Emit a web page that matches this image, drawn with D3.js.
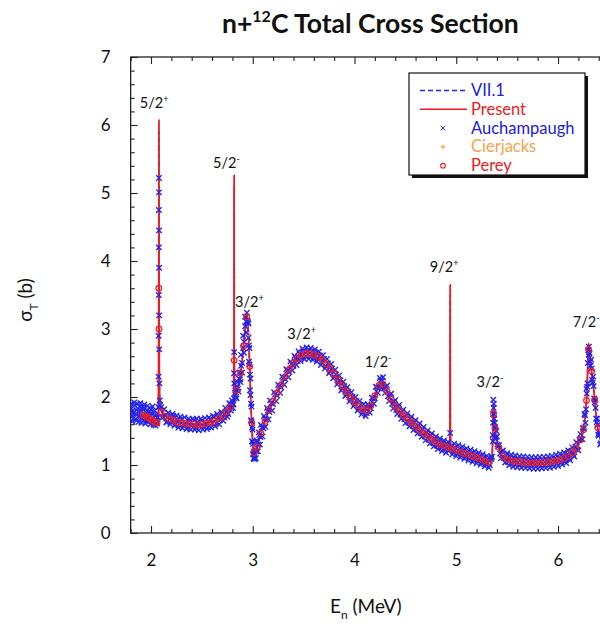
<!DOCTYPE html>
<html>
<head>
<meta charset="utf-8">
<script src="https://cdn.jsdelivr.net/npm/d3@7"></script>
<style>
  html, body { margin: 0; padding: 0; background: #fff; }
  svg { display: block; }
  text { font-family: "Lato", "Liberation Sans", sans-serif; fill: #111; }
</style>
</head>
<body>
<svg id="chart" width="600" height="624"></svg>
<script>
// ---- axis ticks ----
const xTicks = [2, 3, 4, 5, 6];
const yTicks = [0, 1, 2, 3, 4, 5, 6, 7];

// ---- "Present" evaluation and ENDF/B-VII.1, sampled at the same energies (MeV) ----
const energy = [
  1.80, 1.85, 1.90, 1.95, 2.00, 2.04, 2.06, 2.07, 2.074, 2.077, 2.078, 2.079, 2.082, 2.088,
  2.10, 2.12, 2.15, 2.20, 2.25, 2.30, 2.35, 2.40, 2.45, 2.50, 2.55, 2.60, 2.65, 2.70, 2.75,
  2.78, 2.80, 2.812, 2.816, 2.817, 2.818, 2.822, 2.83, 2.85, 2.875, 2.90, 2.92, 2.935, 2.945,
  2.955, 2.965, 2.975, 2.985, 2.995, 3.005, 3.015, 3.03, 3.05, 3.075, 3.10, 3.135, 3.17, 3.22,
  3.27, 3.32, 3.37, 3.42, 3.47, 3.53, 3.58, 3.63, 3.70, 3.76, 3.83, 3.90, 3.96, 4.00, 4.055,
  4.10, 4.13, 4.17, 4.21, 4.24, 4.265, 4.29, 4.33, 4.38, 4.45, 4.50, 4.55, 4.60, 4.65, 4.70,
  4.75, 4.80, 4.85, 4.90, 4.935, 4.938, 4.940, 4.942, 4.946, 5.00, 5.05, 5.10, 5.15, 5.20,
  5.25, 5.30, 5.335, 5.35, 5.36, 5.367, 5.375, 5.39, 5.41, 5.43, 5.46, 5.50, 5.55, 5.65, 5.75,
  5.85, 5.92, 6.00, 6.05, 6.10, 6.15, 6.19, 6.22, 6.25, 6.27, 6.285, 6.295, 6.30, 6.31, 6.33,
  6.35, 6.37, 6.39, 6.42, 6.46, 6.50
];
const presentSigma = [
  1.76, 1.75, 1.72, 1.69, 1.66, 1.63, 1.60, 1.62, 1.90, 4.00, 6.07, 4.00, 2.30, 1.90,
  1.80, 1.75, 1.71, 1.67, 1.645, 1.625, 1.61, 1.60, 1.595, 1.60, 1.61, 1.635, 1.665, 1.715, 1.79,
  1.85, 1.90, 1.95, 3.00, 5.26, 3.00, 2.00, 2.03, 2.13, 2.30, 2.60, 2.93, 3.15, 3.20,
  3.02, 2.65, 2.20, 1.78, 1.45, 1.24, 1.16, 1.21, 1.32, 1.45, 1.56, 1.71, 1.84, 2.00,
  2.15, 2.30, 2.43, 2.54, 2.61, 2.645, 2.635, 2.605, 2.52, 2.42, 2.27, 2.12, 2.00, 1.93, 1.85,
  1.80, 1.81, 1.90, 2.06, 2.17, 2.22, 2.17, 2.05, 1.91, 1.78, 1.70, 1.64, 1.575, 1.51, 1.45,
  1.39, 1.335, 1.295, 1.265, 1.25, 1.60, 3.65, 1.60, 1.24, 1.215, 1.19, 1.16, 1.135, 1.11,
  1.08, 1.05, 1.035, 1.06, 1.50, 1.90, 1.65, 1.45, 1.30, 1.20, 1.13, 1.09, 1.06, 1.04, 1.03,
  1.035, 1.045, 1.07, 1.095, 1.13, 1.19, 1.27, 1.37, 1.52, 1.75, 2.10, 2.60, 2.79, 2.65, 2.38,
  2.12, 1.80, 1.55, 1.36, 1.25, 1.18
];
const vii1Sigma = [
  1.76, 1.75, 1.72, 1.69, 1.66, 1.63, 1.60, 1.62, 1.88, 3.90, 5.90, 3.90, 2.28, 1.90,
  1.80, 1.75, 1.71, 1.67, 1.645, 1.625, 1.61, 1.60, 1.595, 1.60, 1.61, 1.635, 1.665, 1.715, 1.79,
  1.85, 1.90, 1.95, 2.90, 5.10, 2.90, 2.00, 2.03, 2.13, 2.30, 2.60, 2.93, 3.14, 3.19,
  3.02, 2.65, 2.20, 1.78, 1.45, 1.24, 1.16, 1.21, 1.32, 1.45, 1.56, 1.71, 1.84, 2.00,
  2.15, 2.30, 2.43, 2.54, 2.61, 2.645, 2.635, 2.605, 2.52, 2.42, 2.27, 2.12, 2.00, 1.93, 1.85,
  1.80, 1.81, 1.90, 2.06, 2.17, 2.22, 2.17, 2.05, 1.91, 1.78, 1.70, 1.64, 1.575, 1.51, 1.45,
  1.39, 1.335, 1.295, 1.265, 1.25, 1.55, 3.50, 1.55, 1.24, 1.215, 1.19, 1.16, 1.135, 1.11,
  1.08, 1.05, 1.035, 1.06, 1.48, 1.88, 1.64, 1.45, 1.30, 1.20, 1.13, 1.09, 1.06, 1.04, 1.03,
  1.035, 1.045, 1.07, 1.095, 1.13, 1.19, 1.27, 1.37, 1.52, 1.75, 2.08, 2.58, 2.76, 2.63, 2.37,
  2.12, 1.80, 1.55, 1.36, 1.25, 1.18
];

// ---- measured transmission data, [E (MeV), sigma_T (b)] ----
const auchampaugh = [
  [1.80,1.85],[1.81,1.71],[1.82,1.80],[1.83,1.69],[1.84,1.88],[1.85,1.75],[1.86,1.66],[1.87,1.83],
  [1.88,1.72],[1.89,1.86],[1.90,1.68],[1.91,1.79],[1.92,1.70],[1.93,1.84],[1.94,1.74],[1.95,1.65],
  [1.96,1.81],[1.97,1.70],[1.98,1.77],[1.99,1.66],[2.00,1.82],[2.01,1.69],[2.02,1.75],[2.03,1.64],
  [2.04,1.72],[2.05,1.66],[2.06,1.61],[2.065,1.70],[2.072,1.85],[2.074,2.30],[2.075,2.90],[2.076,3.50],
  [2.077,4.20],[2.0775,4.75],[2.078,5.22],[2.0785,5.01],[2.079,4.45],[2.0795,3.90],[2.080,3.20],[2.081,2.70],
  [2.083,2.20],[2.086,1.95],[2.09,1.88],
  [2.10,1.85],[2.12,1.71],[2.14,1.73],[2.16,1.64],[2.18,1.725],[2.20,1.65],[2.22,1.72],[2.24,1.60],
  [2.26,1.67],[2.28,1.60],[2.30,1.675],[2.32,1.58],[2.34,1.62],[2.36,1.55],[2.38,1.645],[2.40,1.58],
  [2.42,1.66],[2.44,1.545],[2.46,1.625],[2.48,1.567],[2.50,1.65],[2.52,1.564],[2.54,1.618],[2.56,1.555],
  [2.58,1.665],[2.60,1.615],[2.62,1.71],[2.64,1.61],[2.66,1.705],[2.68,1.665],[2.70,1.765],[2.72,1.70],
  [2.74,1.785],[2.76,1.75],[2.78,1.89],[2.79,1.835],[2.80,1.91],[2.81,1.89],[2.816,2.35],[2.817,2.66],
  [2.818,2.20],[2.825,2.06],[2.835,2.00],[2.845,2.14],[2.855,2.12],[2.865,2.27],[2.875,2.26],[2.885,2.46],
  [2.895,2.50],[2.905,2.72],[2.915,2.81],[2.925,3.04],[2.935,3.11],[2.942,3.24],[2.948,3.12],[2.953,3.10],
  [2.958,2.87],[2.963,2.76],[2.968,2.48],[2.973,2.33],[2.978,2.03],[2.983,1.90],[2.988,1.64],[2.993,1.55],
  [2.998,1.34],[3.003,1.31],[3.008,1.17],[3.013,1.20],[3.018,1.12],[3.025,1.22],[3.035,1.20],[3.045,1.33],
  [3.055,1.30],[3.065,1.44],[3.075,1.41],[3.09,1.555],[3.105,1.54],[3.12,1.685],[3.135,1.67],[3.15,1.805],
  [3.165,1.78],[3.18,1.91],[3.20,1.895],[3.22,2.04],[3.24,2.02],[3.26,2.16],[3.28,2.14],[3.30,2.28],
  [3.32,2.26],[3.34,2.39],[3.36,2.365],[3.38,2.49],[3.40,2.46],[3.42,2.58],[3.44,2.53],[3.46,2.64],
  [3.48,2.575],[3.50,2.67],[3.52,2.60],[3.54,2.685],[3.56,2.60],[3.58,2.675],[3.60,2.585],[3.62,2.65],
  [3.64,2.555],[3.66,2.61],[3.68,2.505],[3.70,2.56],[3.72,2.45],[3.74,2.495],[3.76,2.38],[3.78,2.42],
  [3.80,2.295],[3.82,2.33],[3.84,2.21],[3.86,2.245],[3.88,2.12],[3.90,2.16],[3.92,2.04],[3.94,2.08],
  [3.96,1.96],[3.98,2.005],[4.00,1.89],[4.02,1.94],[4.04,1.83],[4.06,1.885],[4.08,1.78],[4.10,1.84],
  [4.12,1.765],[4.14,1.87],[4.16,1.835],[4.18,1.98],[4.20,1.98],[4.22,2.14],[4.24,2.13],[4.255,2.24],
  [4.265,2.19],[4.275,2.24],[4.29,2.13],[4.31,2.15],[4.33,2.01],[4.35,2.035],[4.37,1.90],[4.39,1.93],
  [4.41,1.81],[4.43,1.855],[4.45,1.74],[4.47,1.79],[4.49,1.675],[4.51,1.73],[4.53,1.625],[4.55,1.68],
  [4.57,1.575],[4.59,1.63],[4.61,1.52],[4.63,1.575],[4.65,1.47],[4.67,1.525],[4.69,1.42],[4.71,1.48],
  [4.73,1.375],[4.75,1.43],[4.77,1.33],[4.79,1.385],[4.81,1.285],[4.83,1.35],[4.85,1.255],[4.87,1.32],
  [4.89,1.23],[4.91,1.30],[4.93,1.21],[4.94,1.47],[4.95,1.285],[4.97,1.195],[4.99,1.26],[5.01,1.17],
  [5.03,1.24],[5.05,1.15],[5.07,1.22],[5.09,1.125],[5.11,1.195],[5.13,1.105],[5.15,1.175],[5.17,1.085],
  [5.19,1.155],[5.21,1.065],[5.23,1.13],[5.25,1.04],[5.27,1.11],[5.29,1.015],[5.31,1.085],[5.33,0.997],
  [5.345,1.09],[5.352,1.12],[5.357,1.44],[5.361,1.62],[5.364,1.96],[5.367,1.84],[5.371,1.74],[5.376,1.56],
  [5.383,1.54],[5.39,1.41],[5.40,1.42],[5.41,1.27],[5.42,1.29],[5.43,1.17],[5.45,1.20],[5.47,1.10],
  [5.49,1.14],[5.51,1.045],[5.53,1.11],[5.55,1.02],[5.57,1.095],[5.59,1.01],[5.61,1.085],[5.63,1.002],
  [5.65,1.08],[5.67,0.998],[5.69,1.075],[5.71,0.993],[5.73,1.07],[5.75,0.99],[5.77,1.07],[5.79,0.99],
  [5.81,1.072],[5.83,0.993],[5.85,1.075],[5.87,0.998],[5.89,1.08],[5.91,1.003],[5.93,1.088],[5.95,1.015],
  [5.97,1.10],[5.99,1.027],[6.01,1.115],[6.03,1.045],[6.05,1.135],[6.07,1.07],[6.09,1.16],[6.11,1.10],
  [6.13,1.205],[6.15,1.15],[6.17,1.27],[6.19,1.23],[6.21,1.37],[6.23,1.38],[6.245,1.54],[6.255,1.54],
  [6.265,1.73],[6.275,1.82],[6.282,2.05],[6.288,2.15],[6.293,2.50],[6.297,2.69],[6.301,2.62],[6.305,2.66],
  [6.31,2.64],[6.32,2.46],[6.33,2.42],[6.34,2.21],[6.35,2.16],[6.36,1.92],[6.37,1.84],[6.38,1.63],
  [6.39,1.59],[6.40,1.43],[6.41,1.45],[6.42,1.32],
  // interleaved second run
  [1.805,1.90],[1.815,1.64],[1.825,1.76],[1.835,1.92],[1.845,1.67],[1.855,1.81],[1.865,1.90],[1.875,1.63],
  [1.885,1.78],[1.895,1.91],[1.905,1.62],[1.915,1.85],[1.925,1.66],[1.935,1.89],[1.945,1.61],[1.955,1.77],
  [1.965,1.87],[1.975,1.63],[1.985,1.84],[1.995,1.60],[2.005,1.76],[2.015,1.86],[2.025,1.59],[2.035,1.80],
  [2.045,1.58],[2.055,1.74],
  [2.11,1.695],[2.13,1.82],[2.15,1.625],[2.17,1.77],[2.19,1.60],[2.21,1.75],[2.23,1.58],[2.25,1.725],
  [2.27,1.55],[2.29,1.71],[2.31,1.54],[2.33,1.70],[2.35,1.53],[2.37,1.68],[2.39,1.52],[2.41,1.68],
  [2.43,1.52],[2.45,1.68],[2.47,1.51],[2.49,1.68],[2.51,1.52],[2.53,1.69],[2.55,1.53],[2.57,1.70],
  [2.59,1.55],[2.61,1.72],[2.63,1.57],[2.65,1.75],[2.67,1.60],[2.69,1.78],[2.71,1.65],[2.73,1.84],
  [2.75,1.71],[2.77,1.91],[2.785,1.80],[2.795,1.95],[2.805,1.84],[2.815,1.98],[2.83,2.10],[2.84,1.98],
  [2.85,2.22],[2.86,2.08],[2.87,2.36],[2.88,2.22],
  [2.885,2.62],[2.895,2.36],[2.905,2.90],[2.915,2.65],[2.925,3.18],[2.935,2.95],[2.958,3.08],[2.963,2.52],
  [2.968,2.72],[2.973,2.10],[2.978,2.27],[2.983,1.66],[2.988,1.86],[2.993,1.35],[2.998,1.52],[3.003,1.16],
  [3.008,1.10],[3.013,1.09],[3.02,1.09],[3.03,1.10],[3.04,1.36],[3.05,1.20],[3.06,1.48],[3.07,1.30],
  [3.08,1.59],[3.095,1.42],[3.11,1.72],[3.125,1.56],[3.14,1.84],[3.155,1.67],[3.17,1.95],[3.19,1.80],
  [3.21,2.07],[3.23,1.94],[3.25,2.18],[3.27,2.06],[3.29,2.30],[3.31,2.18],[3.33,2.41],[3.35,2.29],
  [3.37,2.52],[3.39,2.39],[3.41,2.605],[3.43,2.47],[3.45,2.67],[3.47,2.53],[3.49,2.71],[3.51,2.555],
  [3.53,2.73],[3.55,2.56],[3.57,2.72],[3.59,2.545],[3.61,2.70],[3.63,2.52],[3.65,2.665],[3.67,2.47],
  [3.69,2.615],[3.71,2.42],[3.73,2.56],[3.75,2.35],[3.77,2.485],[3.79,2.275],[3.81,2.40],[3.83,2.185],
  [3.85,2.315],[3.87,2.095],[3.89,2.225],[3.91,2.015],[3.93,2.145],[3.95,1.935],[3.97,2.07],[3.99,1.865],
  [4.01,2.00],[4.03,1.80],[4.05,1.94],[4.07,1.745],[4.09,1.895],[4.11,1.72],[4.13,1.895],[4.15,1.77],
  [4.17,1.99],[4.19,1.90],[4.21,2.15],[4.23,2.06],[4.25,2.28],[4.27,2.135],[4.28,2.29],[4.30,2.06],
  [4.32,2.17],[4.34,1.94],[4.36,2.05],[4.38,1.83],[4.40,1.955],[4.42,1.75],[4.44,1.885],[4.46,1.68],
  [4.48,1.815],[4.50,1.615],[4.52,1.76],[4.54,1.57],[4.56,1.71],[4.58,1.515],[4.60,1.66],[4.62,1.465],
  [4.64,1.61],[4.66,1.415],[4.68,1.56],[4.70,1.365],[4.72,1.51],[4.74,1.315],[4.76,1.465],[4.78,1.275],
  [4.80,1.42],[4.82,1.235],[4.84,1.39],[4.86,1.205],[4.88,1.36],[4.90,1.18],[4.92,1.34],[4.96,1.155],
  [4.98,1.315],[5.00,1.13],[5.02,1.29],[5.04,1.11],[5.06,1.27],[5.08,1.09],[5.10,1.245],[5.12,1.065],
  [5.14,1.225],[5.16,1.045],[5.18,1.205],[5.20,1.025],[5.22,1.18],[5.24,1.005],[5.26,1.16],[5.28,0.98],
  [5.30,1.135],[5.32,0.96],[5.34,1.12],
  [5.36,1.35],[5.363,1.75],[5.369,1.90],[5.373,1.68],[5.38,1.62],[5.387,1.38],[5.395,1.50],[5.405,1.30],
  [5.44,1.10],[5.46,1.215],[5.48,1.035],[5.50,1.175],[5.52,0.995],[5.54,1.15],[5.56,0.975],[5.58,1.14],
  [5.60,0.965],[5.62,1.13],[5.64,0.96],[5.66,1.125],[5.68,0.955],[5.70,1.12],[5.72,0.95],[5.74,1.115],
  [5.76,0.945],[5.78,1.115],[5.80,0.945],[5.82,1.117],[5.84,0.95],[5.86,1.12],[5.88,0.955],[5.90,1.125],
  [5.92,0.96],[5.94,1.135],[5.96,0.975],[5.98,1.15],[6.00,0.985],[6.02,1.165],[6.04,1.005],[6.06,1.185],
  [6.08,1.03],[6.10,1.215],[6.12,1.07],[6.14,1.26],[6.16,1.125],[6.18,1.335],[6.20,1.215],[6.22,1.455],
  [6.24,1.38],[6.26,1.75],[6.27,1.62],[6.28,2.12],[6.29,2.20],[6.303,2.74],[6.315,2.52],[6.325,2.55],
  [6.335,2.25],[6.345,2.30],[6.355,1.98],[6.365,1.95],[6.375,1.68],[6.385,1.68],[6.395,1.45],[6.405,1.48],
  [6.415,1.30]
];
const cierjacks = [
  [2.12,1.70],[2.20,1.62],[2.28,1.56],[2.36,1.52],[2.44,1.53],[2.52,1.57],[2.60,1.60],[2.68,1.70],
  [2.76,1.82],[2.88,2.36],[2.96,2.92],[3.01,1.25],[3.08,1.48],[3.16,1.80],[3.24,2.07],[3.32,2.28],
  [3.40,2.49],[3.48,2.64],[3.56,2.62],[3.64,2.62],[3.72,2.47],[3.80,2.32],[3.88,2.14],[3.96,1.99],
  [4.04,1.84],[4.10,1.72],[4.18,1.95],[4.26,2.18],[4.34,2.00],[4.42,1.82],[4.50,1.69],[4.58,1.60],
  [4.66,1.49],[4.74,1.40],[4.82,1.31],[4.90,1.25],[4.98,1.22],[5.06,1.17],[5.14,1.14],[5.22,1.09],
  [5.30,1.03],[5.38,1.55],[5.46,1.12],[5.54,1.05],[5.62,1.04],[5.70,1.02],[5.78,1.04],[5.86,1.02],
  [5.94,1.05],[6.02,1.08],[6.10,1.12],[6.18,1.24],[6.26,1.60],[6.34,2.20],[6.40,1.45]
];
const perey = [
  [1.92,1.74],[1.94,1.72],[1.96,1.71],[1.98,1.69],[2.00,1.67],[2.02,1.65],[2.04,1.63],[2.06,1.62],
  [2.077,3.60],[2.0785,3.00],[2.10,1.78],[2.14,1.72],[2.18,1.68],[2.22,1.66],[2.26,1.63],[2.30,1.62],
  [2.34,1.61],[2.38,1.60],[2.42,1.60],[2.46,1.59],[2.50,1.60],[2.54,1.61],[2.58,1.62],[2.62,1.64],
  [2.66,1.68],[2.70,1.72],[2.74,1.78],[2.78,1.85],[2.817,2.54],[2.84,2.10],[2.88,2.35],[2.91,2.75],
  [2.94,3.18],[2.97,2.45],[2.99,1.62],[3.01,1.18],[3.04,1.27],[3.08,1.47],[3.12,1.64],[3.16,1.81],
  [3.20,1.94],[3.24,2.06],[3.28,2.18],[3.32,2.30],[3.36,2.41],[3.40,2.50],[3.44,2.57],[3.48,2.62],
  [3.52,2.64],[3.56,2.64],[3.60,2.62],[3.64,2.60],[3.68,2.55],[3.72,2.49],[3.76,2.42],[3.80,2.34],
  [3.84,2.25],[3.88,2.16],[3.92,2.08],[3.96,2.00],[4.00,1.93],[4.04,1.87],[4.08,1.82],[4.12,1.80],
  [4.16,1.87],[4.20,2.02],[4.24,2.17],[4.28,2.19],[4.32,2.08],[4.36,1.97],[4.40,1.87],[4.44,1.80],
  [4.48,1.73],[4.52,1.68],[4.56,1.63],[4.60,1.57],[4.64,1.52],[4.68,1.47],[4.72,1.43],[4.76,1.38],
  [4.80,1.34],[4.84,1.30],[4.88,1.28],[4.92,1.26],[4.96,1.24],[5.00,1.22],[5.04,1.19],[5.08,1.17],
  [5.12,1.15],[5.16,1.13],[5.20,1.11],[5.24,1.09],[5.28,1.06],[5.32,1.04],[5.366,1.75],[5.38,1.55],
  [5.42,1.26],[5.46,1.13],[5.50,1.09],[5.54,1.06],[5.58,1.05],[5.62,1.05],[5.66,1.04],[5.70,1.03],
  [5.74,1.03],[5.78,1.03],[5.82,1.03],[5.86,1.04],[5.90,1.04],[5.94,1.05],[5.98,1.06],[6.02,1.08],
  [6.06,1.10],[6.10,1.13],[6.14,1.18],[6.18,1.25],[6.22,1.37],[6.25,1.52],[6.28,1.95],[6.30,2.70],
  [6.33,2.38],[6.36,1.96],[6.39,1.55]
];

// ---- resonance assignments: J, parity, label anchor (E, sigma) ----
const resonanceJ      = ["5/2", "5/2", "3/2", "3/2", "1/2", "9/2", "3/2", "7/2"];
const resonanceParity = ["+",   "-",   "+",   "+",   "-",   "+",   "-",   "-"];
const labelE          = [1.89, 2.61, 2.826, 3.34, 4.10, 4.74, 5.20, 6.145];
const labelSigma      = [6.25, 5.37, 3.33, 2.85, 2.44, 3.84, 2.15, 3.03];

// ---- legend entries ----
const legendNames = ["VII.1", "Present", "Auchampaugh", "Cierjacks", "Perey"];

const BLUE = "#2323ee", RED = "#ec1c24", ORANGE = "#f4a24c";
const TEXT_BLUE = "#2020d8";

const svg = d3.select("#chart");
const x = d3.scaleLinear().domain([1.8, 6.5]).range([130.65, 608.9]);
const y = d3.scaleLinear().domain([0, 7]).range([533, 57]);

// clip data to the plotting frame
svg.append("defs").append("clipPath").attr("id", "plotArea")
  .append("rect").attr("x", x(1.8)).attr("y", y(7))
  .attr("width", x(6.5) - x(1.8)).attr("height", y(0) - y(7));

// ---- axes with inward ticks ----
const minorX = d3.range(1.8, 6.51, 0.2).map(v => +v.toFixed(2)).filter(v => !xTicks.includes(v));
const minorY = d3.range(0, 7.01, 0.2).map(v => +v.toFixed(2)).filter(v => !yTicks.includes(v));

function styleAxis(g) {
  g.select(".domain").remove();
  g.selectAll(".tick line").attr("stroke", "#222").attr("stroke-width", 1.1);
  g.selectAll(".tick text").attr("font-family", "Lato, 'Liberation Sans', sans-serif")
    .attr("font-size", 17).attr("fill", "#111");
}

svg.append("g").attr("transform", `translate(0,${y(0)})`)
  .call(d3.axisBottom(x).tickValues(xTicks).tickSize(-7).tickPadding(21).tickFormat(d3.format("d")))
  .call(styleAxis);
svg.append("g").attr("transform", `translate(0,${y(0)})`)
  .call(d3.axisBottom(x).tickValues(minorX).tickSize(-4).tickFormat(""))
  .call(styleAxis);
svg.append("g").attr("transform", `translate(0,${y(7)})`)
  .call(d3.axisTop(x).tickValues(xTicks).tickSize(-7).tickFormat(""))
  .call(styleAxis);
svg.append("g").attr("transform", `translate(0,${y(7)})`)
  .call(d3.axisTop(x).tickValues(minorX).tickSize(-4).tickFormat(""))
  .call(styleAxis);
svg.append("g").attr("transform", `translate(${x(1.8)},0)`)
  .call(d3.axisLeft(y).tickValues(yTicks).tickSize(-7).tickPadding(20).tickFormat(d3.format("d")))
  .call(styleAxis);
svg.append("g").attr("transform", `translate(${x(1.8)},0)`)
  .call(d3.axisLeft(y).tickValues(minorY).tickSize(-4).tickFormat(""))
  .call(styleAxis);

// frame
svg.append("rect").attr("x", x(1.8)).attr("y", y(7))
  .attr("width", x(6.5) - x(1.8)).attr("height", y(0) - y(7))
  .attr("fill", "none").attr("stroke", "#222").attr("stroke-width", 1.3);

// ---- data ----
const plot = svg.append("g").attr("clip-path", "url(#plotArea)");
const line = d3.line().x(d => x(d[0])).y(d => y(d[1])).curve(d3.curveMonotoneX);

plot.append("path").datum(energy.map((e, i) => [e, vii1Sigma[i]]))
  .attr("d", line).attr("fill", "none").attr("stroke", BLUE)
  .attr("stroke-width", 1.5).attr("stroke-dasharray", "5,3");
plot.append("path").datum(energy.map((e, i) => [e, presentSigma[i]]))
  .attr("d", line).attr("fill", "none").attr("stroke", RED).attr("stroke-width", 1.8);

const crossPath = s => `M${-s},${-s}L${s},${s}M${-s},${s}L${s},${-s}`;
const plusPath = s => `M${-s},0L${s},0M0,${-s}L0,${s}`;

plot.append("g").selectAll("path").data(cierjacks).join("path")
  .attr("transform", d => `translate(${x(d[0])},${y(d[1])})`)
  .attr("d", plusPath(2.8)).attr("stroke", ORANGE).attr("stroke-width", 1.2).attr("fill", "none");
plot.append("g").selectAll("path").data(auchampaugh).join("path")
  .attr("transform", d => `translate(${x(d[0])},${y(d[1])})`)
  .attr("d", crossPath(2.7)).attr("stroke", BLUE).attr("stroke-width", 1.35)
  .attr("fill", "none");
plot.append("g").selectAll("circle").data(perey).join("circle")
  .attr("cx", d => x(d[0])).attr("cy", d => y(d[1])).attr("r", 2.8)
  .attr("fill", "none").attr("stroke", RED).attr("stroke-width", 1.2);

// ---- resonance labels ----
const lab = svg.append("g");
resonanceJ.forEach((j, i) => {
  const t = lab.append("text").attr("x", x(labelE[i])).attr("y", y(labelSigma[i]))
    .attr("font-size", 14.5);
  t.append("tspan").text(j);
  t.append("tspan").attr("dy", -6).attr("font-size", 9).text(resonanceParity[i]);
});

// ---- title and axis titles ----
const title = svg.append("text").attr("x", 222).attr("y", 33)
  .attr("font-size", 26.5).attr("font-weight", 700);
title.append("tspan").text("n+");
title.append("tspan").attr("dy", -11).attr("font-size", 16).text("12");
title.append("tspan").attr("dy", 11).text("C Total Cross Section");

const xt = svg.append("text").attr("x", 330).attr("y", 613).attr("font-size", 19);
xt.append("tspan").text("E");
xt.append("tspan").attr("dy", 6).attr("font-size", 12).text("n");
xt.append("tspan").attr("dy", -6).text(" (MeV)");

const yt = svg.append("text").attr("transform", "translate(32,300) rotate(-90)")
  .attr("text-anchor", "middle").attr("font-size", 19);
yt.append("tspan").text("σ");
yt.append("tspan").attr("dy", 6).attr("font-size", 12).text("T");
yt.append("tspan").attr("dy", -6).text(" (b)");

// ---- legend ----
const lg = svg.append("g");
lg.append("rect").attr("x", 412).attr("y", 76).attr("width", 176).attr("height", 102).attr("fill", "#111");
lg.append("rect").attr("x", 409).attr("y", 73).attr("width", 176).attr("height", 102)
  .attr("fill", "#fff").attr("stroke", "#111").attr("stroke-width", 1.2);
const legendColors = [TEXT_BLUE, RED, TEXT_BLUE, ORANGE, RED];
legendNames.forEach((name, i) => {
  const by = 96 + i * 18.8;
  lg.append("text").attr("x", 471).attr("y", by).attr("font-size", 16.5)
    .attr("fill", legendColors[i]).style("fill", legendColors[i]).text(name);
  const cy = by - 5.5;
  if (i === 0) {
    lg.append("line").attr("x1", 420).attr("x2", 467).attr("y1", cy).attr("y2", cy)
      .attr("stroke", BLUE).attr("stroke-width", 1.5).attr("stroke-dasharray", "5,3");
  } else if (i === 1) {
    lg.append("line").attr("x1", 420).attr("x2", 467).attr("y1", cy).attr("y2", cy)
      .attr("stroke", RED).attr("stroke-width", 1.5);
  } else if (i === 2) {
    lg.append("path").attr("transform", `translate(443,${cy})`).attr("d", crossPath(2.2))
      .attr("stroke", BLUE).attr("stroke-width", 1).attr("fill", "none");
  } else if (i === 3) {
    lg.append("path").attr("transform", `translate(443,${cy})`).attr("d", plusPath(2.4))
      .attr("stroke", ORANGE).attr("stroke-width", 1.1).attr("fill", "none");
  } else {
    lg.append("circle").attr("cx", 443).attr("cy", cy).attr("r", 2.3)
      .attr("fill", "none").attr("stroke", RED).attr("stroke-width", 1.1);
  }
});
</script>
</body>
</html>
